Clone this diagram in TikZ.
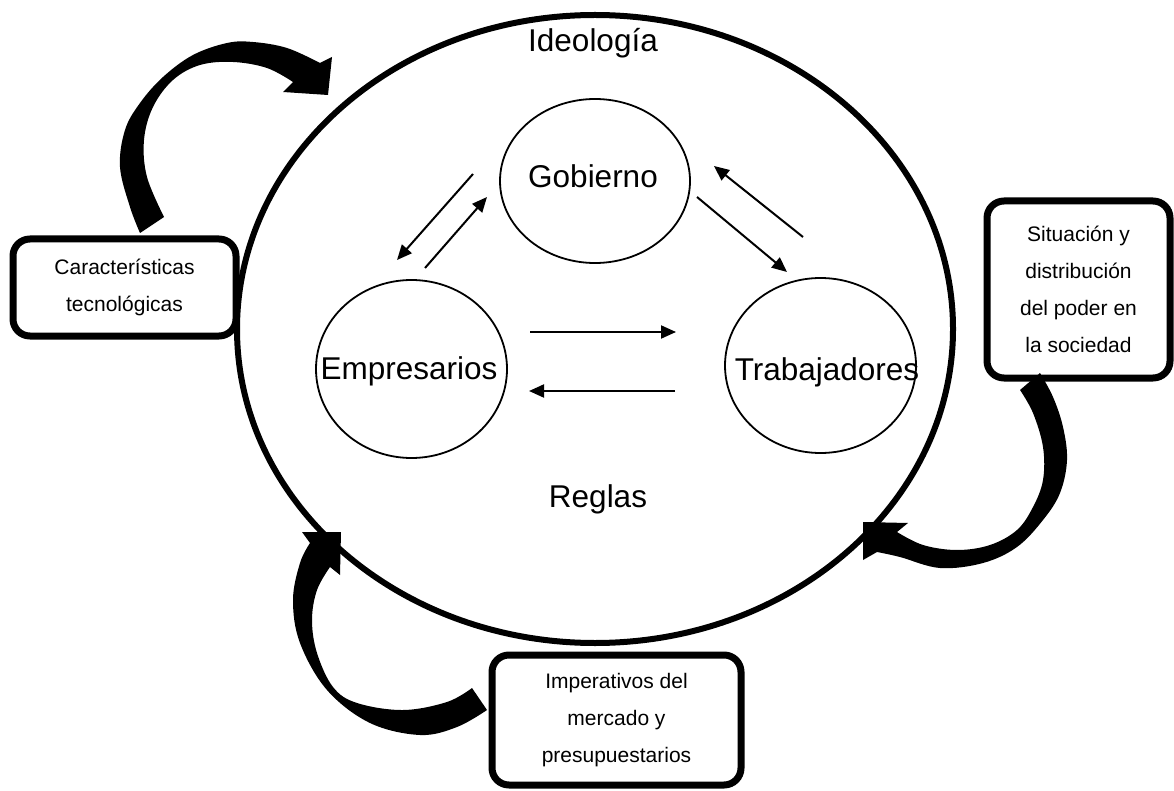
\documentclass[tikz,border=0pt]{standalone}
\usepackage{fontspec}
\setmainfont{Liberation Sans}
\usetikzlibrary{shapes.geometric,arrows.meta}
\begin{document}
\begin{tikzpicture}[x=1pt,y=-1pt,
  arena/.style={ellipse, draw, line width=6pt, inner sep=0pt, minimum width=716pt, minimum height=628pt},
  actor/.style={ellipse, draw, line width=1.8pt, inner sep=0pt},
  bigtext/.style={font=\fontsize{31.5}{38}\selectfont, anchor=base, inner sep=0pt},
  factor/.style={draw, line width=7pt, rounded corners=17pt, align=center,
                 font=\fontsize{21}{37}\selectfont, inner sep=0pt},
  flow/.style={line width=2pt, -{Triangle[length=15pt,width=13pt]}},
  bigarrow/.style={fill=black},
]
% canvas
\fill[white] (0,0) rectangle (1174,791);
\useasboundingbox (0,0) rectangle (1174,791);

% outer system ellipse with its labels
\node[arena] (sys) at (595,329) {};
\node[bigtext] (ideo) at (593,52) {Ideología};
\node[bigtext] (reglas) at (598,507) {Reglas};

% the three actors
\node[actor, minimum width=190pt, minimum height=164pt] (gob) at (595,181) {};
\node[actor, minimum width=191pt, minimum height=178pt] (emp) at (411.5,369) {};
\node[actor, minimum width=191pt, minimum height=175pt] (trab) at (820.5,365.5) {};
\node[bigtext] (gobT) at (593,188) {Gobierno};
\node[bigtext] (empT) at (409,379) {Empresarios};
\node[bigtext] (trabT) at (827,380) {Trabajadores};

% relations between actors
\coordinate (ge1) at (473,174); \coordinate (ge2) at (397,260);
\coordinate (eg1) at (425,268); \coordinate (eg2) at (487,197);
\coordinate (gt1) at (697,197); \coordinate (gt2) at (787,272);
\coordinate (tg1) at (803,237); \coordinate (tg2) at (714,166);
\coordinate (et1) at (530,332); \coordinate (et2) at (676,332);
\coordinate (te1) at (675,391); \coordinate (te2) at (529,391);
\draw[flow] (ge1) -- (ge2);
\draw[flow] (eg1) -- (eg2);
\draw[flow] (gt1) -- (gt2);
\draw[flow] (tg1) -- (tg2);
\draw[flow] (et1) -- (et2);
\draw[flow] (te1) -- (te2);

% external factors
\node[factor, minimum width=223pt, minimum height=97pt] (tec) at (124.5,287.5)
  {Características\\tecnológicas};
\node[factor, minimum width=183pt, minimum height=177pt] (poder) at (1078.5,289.5)
  {Situación y\\distribución\\del poder en\\la sociedad};
\node[factor, minimum width=249pt, minimum height=130pt] (merc) at (616.5,720)
  {Imperativos del\\mercado y\\presupuestarios};

% curved block arrow: technology -> system
\fill[bigarrow] (140,233)
  -- plot[smooth, tension=0.6] coordinates {(140,233) (130,207) (120,167) (125,130) (140,103) (163,77) (193,55) (227,43) (253,42) (287,48) (320,63)}
  -- (332,57) -- (328,95) -- (283,92)
  -- plot[smooth, tension=0.6] coordinates {(293,82) (267,68) (233,62) (200,65) (173,80) (153,107) (144,140) (147,177) (164,217)}
  -- cycle;

% curved block arrow: power -> system
\fill[bigarrow] (1020,390)
  -- plot[smooth, tension=0.6] coordinates {(1020,390) (1033,413) (1043,447) (1043,480) (1033,507) (1017,530) (990,545) (957,550) (923,545) (897,532)}
  -- (908,523) -- (863,522) -- (863,560)
  -- plot[smooth, tension=0.6] coordinates {(877,552) (900,557) (940,568) (983,563) (1017,547) (1043,520) (1060,493) (1067,460) (1063,427) (1053,397) (1040,373)}
  -- cycle;

% curved block arrow: market -> system
\fill[bigarrow] (487,710)
  -- plot[smooth, tension=0.6] coordinates {(487,710) (457,727) (420,735) (370,723) (327,690) (300,643) (293,600) (300,563) (310,543)}
  -- (302,532) -- (341,532) -- (340,575)
  -- plot[smooth, tension=0.6] coordinates {(330,567) (317,590) (312,620) (317,653) (333,687) (357,703) (403,710) (447,702) (472,688)}
  -- cycle;
\end{tikzpicture}
\end{document}
